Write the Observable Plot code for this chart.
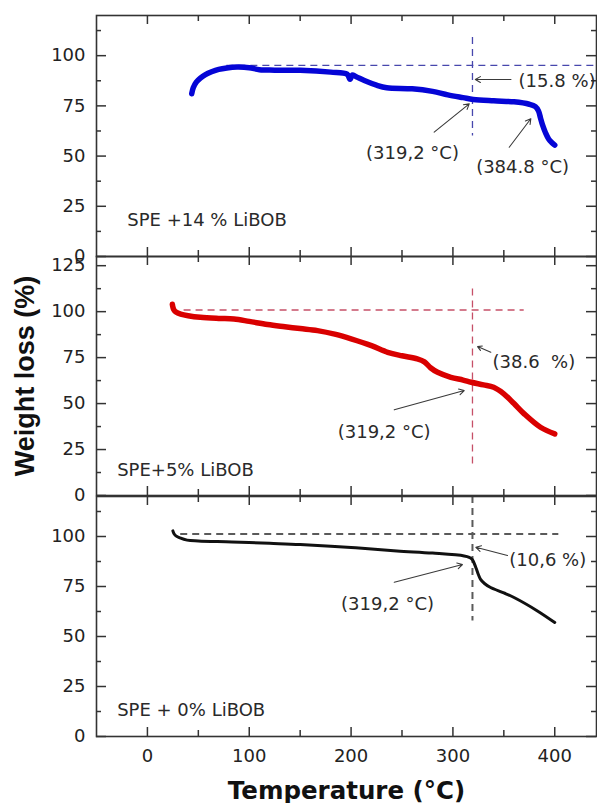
<!DOCTYPE html>
<html><head><meta charset="utf-8">
<script src="https://cdn.jsdelivr.net/npm/d3@7"></script>
<script src="https://cdn.jsdelivr.net/npm/@observablehq/plot@0.6"></script>
<style>
html,body{margin:0;padding:0;background:#fff;overflow:hidden;}
#chart{position:relative;width:597px;height:803px;}
#chart svg{position:absolute;left:0;overflow:visible;background:transparent;}
#chart svg [aria-label="y-axis label"] text{font-family:"Liberation Sans";font-weight:bold;font-size:27px;fill:#111;}
#chart svg [aria-label="x-axis label"] text{font-family:"DejaVu Sans";font-weight:bold;font-size:24.5px;fill:#111;}
</style></head><body><div id="chart"></div>
<script>
// ---- data ----
const xDomain = [-50, 441];
const xTicksMajor = [0, 100, 200, 300, 400];
const xTicksMinor = [50, 150, 250, 350];
const yTicksMajor = [0, 25, 50, 75, 100];
const yTicksMajorMid = [0, 25, 50, 75, 100, 125];
const yTicksMinor = [12.5, 37.5, 62.5, 87.5, 112.5];

// SPE +14 % LiBOB (blue)
const temp14 = [43.5, 45, 48, 52, 57, 63, 70, 78, 88, 100, 110, 125, 150, 180, 196, 199, 201, 205, 213, 225, 235, 260, 280, 295, 310, 320, 340, 360, 375, 381, 384, 386, 388, 391, 394, 397, 400];
const weight14 = [81, 84, 86.8, 88.8, 90.6, 92, 93.2, 93.9, 94.3, 94, 93, 92.8, 92.7, 91.8, 90.8, 88.2, 90.3, 89.5, 87.6, 85.3, 84, 83.5, 82.2, 80.5, 79.1, 78.2, 77.5, 77, 75.8, 74.6, 72.5, 69, 65.5, 61.5, 58.5, 56.8, 55.5];
// SPE+5% LiBOB (red)
const temp5 = [24.5, 25, 26, 28, 32.7, 40, 52, 70, 85, 100, 118, 135, 150, 167, 185, 200, 220, 236, 250, 265, 272, 278, 285, 298, 310, 318, 330, 340, 350, 360, 370, 386, 400];
const weight5 = [104, 102.5, 101, 99.8, 98.7, 97.8, 96.9, 96.3, 96, 94.7, 93, 91.8, 90.8, 89.7, 87.6, 85.2, 81.5, 77.9, 76, 74.3, 72.7, 69.5, 67, 64.3, 62.8, 61.6, 60.2, 58.9, 55.3, 50, 44.4, 37.1, 33.5];
// SPE + 0% LiBOB (black)
const temp0 = [25, 26, 28, 32, 39, 50, 83, 120, 150, 200, 245, 280, 311, 316, 319, 322.5, 325, 327, 331, 337, 350, 360, 383, 400];
const weight0 = [102.8, 101.5, 100.3, 99.3, 98.2, 97.8, 97.3, 96.6, 96, 94.5, 92.8, 91.7, 90.3, 89.6, 88.5, 84.5, 81, 78.7, 76.5, 74.5, 71.8, 69.5, 62.8, 57];

// reference dashed lines: [level, xStart, xEnd], [onsetT, yStart, yEnd]
const refH14 = [95.2, 78, 441], refV14 = [319.2, 60, 109];
const refH5 = [100.9, 36, 370], refV5 = [319.2, 15.4, 112.3];
const refH0 = [101.2, 32.7, 404], refV0 = [319.2, 57.8, 120];

// annotations
const labels14 = [
  {x: -19.8, y: 17.9, text: "SPE +14 % LiBOB", anchor: "start"},
  {x: 364.5, y: 87.2, text: "(15.8 %)", anchor: "start"},
  {x: 260.3, y: 51.3, text: "(319,2 °C)", anchor: "middle"},
  {x: 368.4, y: 44.5, text: "(384.8 °C)", anchor: "middle"}
];
const arrows14 = [
  {x1: 357, y1: 88.1, x2: 322, y2: 88.1},
  {x1: 281.6, y1: 61.9, x2: 316, y2: 76},
  {x1: 355.3, y1: 54.4, x2: 376.5, y2: 68.6}
];
const labels5 = [
  {x: -29.7, y: 13.6, text: "SPE+5% LiBOB", anchor: "start"},
  {x: 338.9, y: 72.5, text: "(38.6\u00a0\u00a0%)", anchor: "start"},
  {x: 232.5, y: 34.4, text: "(319,2 °C)", anchor: "middle"}
];
const arrows5 = [
  {x1: 337.2, y1: 77.9, x2: 324.2, y2: 81},
  {x1: 242.4, y1: 46.6, x2: 311.1, y2: 57.1}
];
const labels0 = [
  {x: -29.7, y: 12.9, text: "SPE + 0% LiBOB", anchor: "start"},
  {x: 355.3, y: 88.3, text: "(10,6 %)", anchor: "start"},
  {x: 235.8, y: 66.3, text: "(319,2 °C)", anchor: "middle"}
];
const arrows0 = [
  {x1: 353.6, y1: 90.5, x2: 322.5, y2: 94.6},
  {x1: 242.4, y1: 77.1, x2: 309.4, y2: 86}
];

// ---- drawing ----
const PW = 500; // plot-area width in px
function panel(o) {
  const data = o.temps.map((t, i) => ({t, w: o.weights[i]}));
  const H = o.H;
  const yD = [0, o.yMax];
  const ax = "#333";
  const marks = [
    // inward ticks (y1 = top value, y2 = bottom value)
    Plot.ruleX(xTicksMajor, {x: d => d, y1: o.yMax, y2: 0, insetTop: H - 9, stroke: ax, strokeWidth: 1.5}),
    Plot.ruleX(xTicksMinor, {x: d => d, y1: o.yMax, y2: 0, insetTop: H - 6, stroke: ax, strokeWidth: 1.5}),
    Plot.ruleX(xTicksMajor, {x: d => d, y1: o.yMax, y2: 0, insetBottom: H - 9, stroke: ax, strokeWidth: 1.5}),
    Plot.ruleX(xTicksMinor, {x: d => d, y1: o.yMax, y2: 0, insetBottom: H - 6, stroke: ax, strokeWidth: 1.5}),
    Plot.ruleY(o.yMajor, {y: d => d, x1: xDomain[0], x2: xDomain[1], insetRight: PW - 10, stroke: ax, strokeWidth: 1.5}),
    Plot.ruleY(yTicksMinor, {y: d => d, x1: xDomain[0], x2: xDomain[1], insetRight: PW - 5, stroke: ax, strokeWidth: 1.5}),
    Plot.ruleY(o.yMajor, {y: d => d, x1: xDomain[0], x2: xDomain[1], insetLeft: PW - 10, stroke: ax, strokeWidth: 1.5}),
    Plot.ruleY(yTicksMinor, {y: d => d, x1: xDomain[0], x2: xDomain[1], insetLeft: PW - 5, stroke: ax, strokeWidth: 1.5}),
    // dashed reference lines
    Plot.ruleY([o.refH], {y: d => d[0], x1: d => d[1], x2: d => d[2], stroke: o.dashColor, strokeWidth: o.dashWidth, strokeDasharray: "7,5"}),
    Plot.ruleX([o.refV], {x: d => d[0], y1: d => d[2], y2: d => d[1], stroke: o.dashColor, strokeWidth: o.dashWidth, strokeDasharray: "7,5"}),
    // curve
    Plot.line(data, {x: "t", y: "w", stroke: o.color, strokeWidth: o.lineWidth, curve: "catmull-rom", strokeLinecap: "round", strokeLinejoin: "round"}),
    // annotations
    Plot.arrow(o.arrows, {x1: "x1", y1: "y1", x2: "x2", y2: "y2", stroke: "#3a3a3a", strokeWidth: 1.1, headLength: 8}),
    Plot.text(o.labels.filter(d => d.anchor === "start"), {x: "x", y: "y", text: "text", textAnchor: "start", fill: "#2a2a2a", fontSize: 18}),
    Plot.text(o.labels.filter(d => d.anchor === "middle"), {x: "x", y: "y", text: "text", textAnchor: "middle", fill: "#2a2a2a", fontSize: 18}),
    Plot.axisY({ticks: o.yMajor, tickSize: 0, tickPadding: 11, label: o.yLabel || null, labelAnchor: "center", labelOffset: 82, labelArrow: "none", fill: "#222"}),
    Plot.frame({stroke: ax, strokeWidth: 1.6})
  ];
  if (o.showX) {
    marks.push(Plot.axisX({ticks: xTicksMajor, tickSize: 0, tickPadding: 13, label: "Temperature (°C)", labelAnchor: "center", labelOffset: 62, labelArrow: "none", fill: "#222"}));
  }
  const svg = Plot.plot({
    width: 597,
    height: H + (o.mb || 0),
    marginLeft: 96,
    marginRight: 1,
    marginTop: 0,
    marginBottom: o.mb || 0,
    style: {fontFamily: "DejaVu Sans", fontSize: "18px", color: "#222", overflow: "visible", background: "transparent"},
    x: {domain: xDomain, axis: o.showX ? undefined : null},
    y: {domain: yD},
    marks
  });
  svg.style.top = o.top + "px";
  document.getElementById("chart").appendChild(svg);
}

panel({temps: temp14, weights: weight14, color: "#0505d6", lineWidth: 5.5, yMax: 120, yMajor: yTicksMajor, H: 241, top: 15,
  refH: refH14, refV: refV14, dashColor: "#4747ad", dashWidth: 1.3, labels: labels14, arrows: arrows14});
panel({temps: temp5, weights: weight5, color: "#d90000", lineWidth: 5.5, yMax: 130, yMajor: yTicksMajorMid, H: 239, top: 256,
  refH: refH5, refV: refV5, dashColor: "#c65068", dashWidth: 1.3, labels: labels5, arrows: arrows5, yLabel: "Weight loss (%)"});
panel({temps: temp0, weights: weight0, color: "#111", lineWidth: 3, yMax: 120, yMajor: yTicksMajor, H: 240, top: 496, mb: 67,
  refH: refH0, refV: refV0, dashColor: "#5a5a5a", dashWidth: 2, labels: labels0, arrows: arrows0, showX: true});
</script></body></html>
